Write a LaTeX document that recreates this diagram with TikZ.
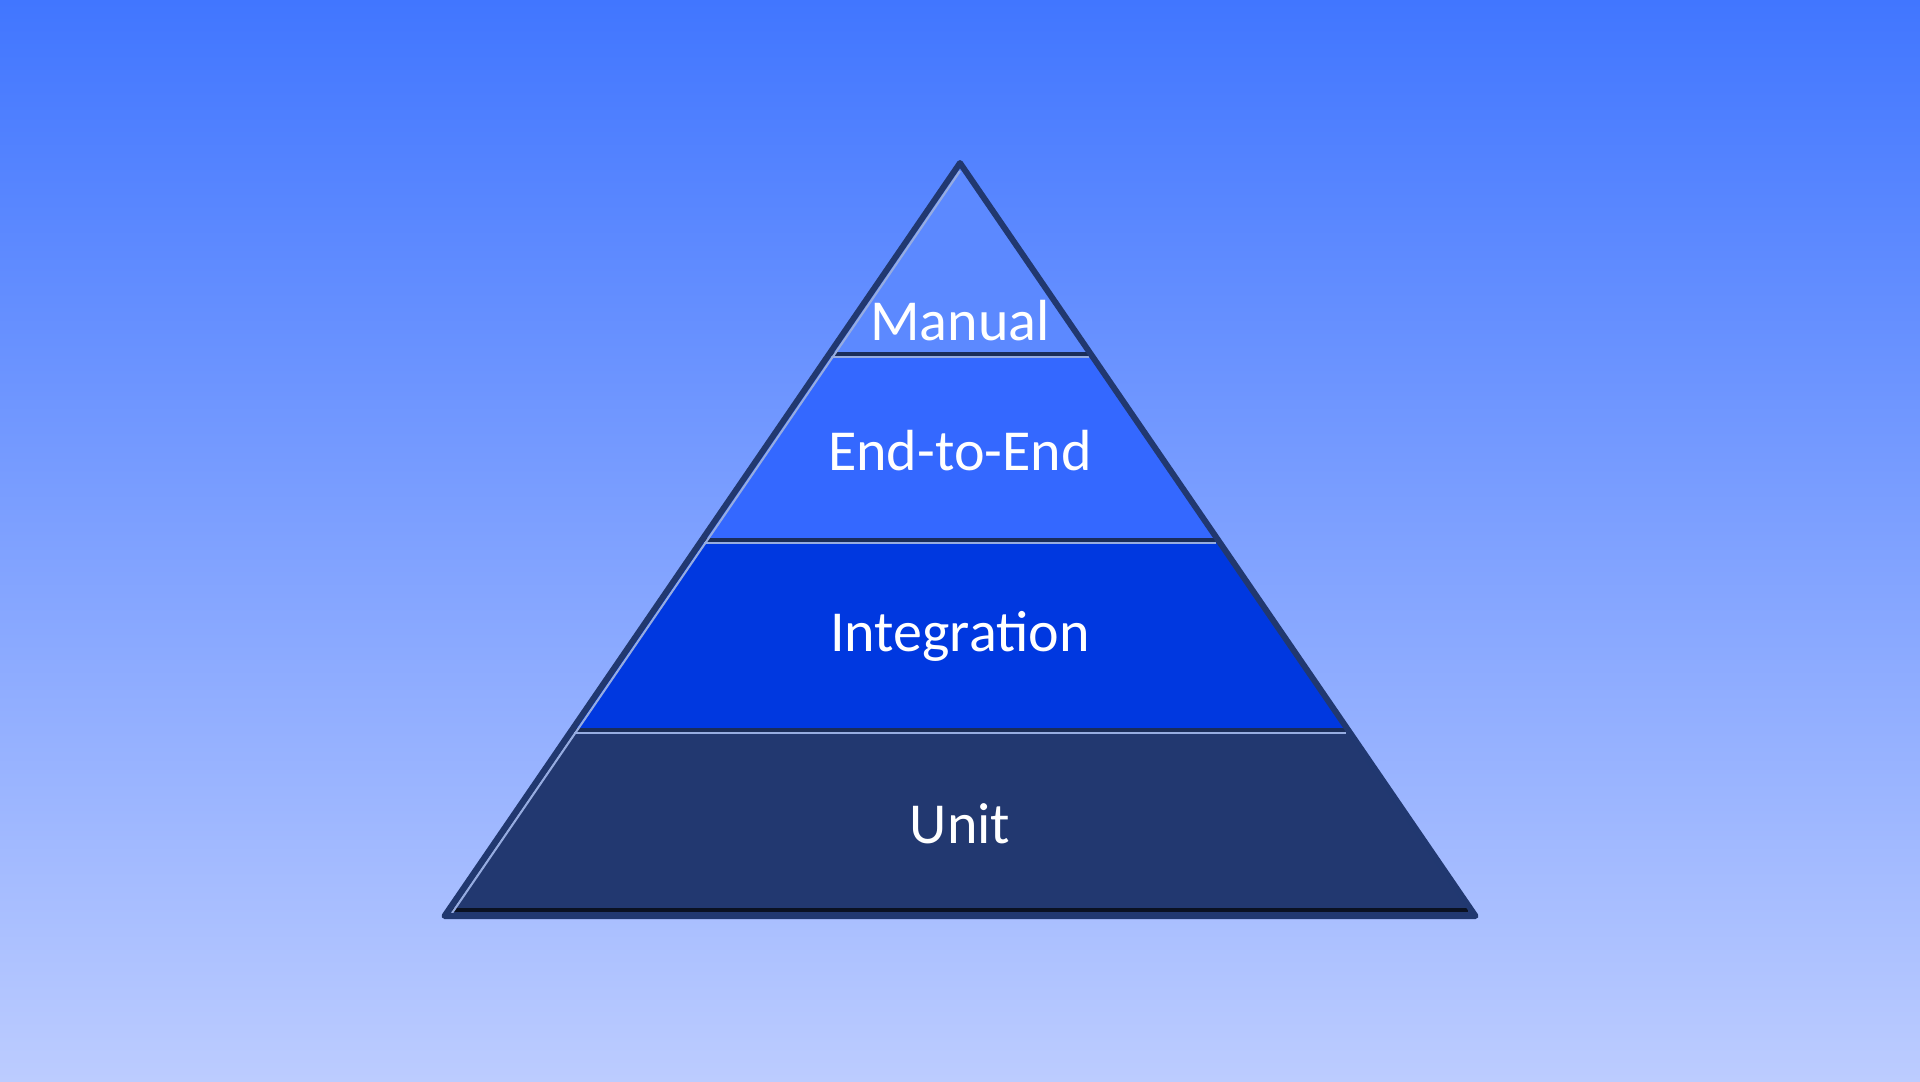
\documentclass[tikz,border=0pt]{standalone}
\usepackage{fontspec}
\setmainfont{Carlito}
\usetikzlibrary{calc}
\definecolor{bgtop}{RGB}{65,118,255}
\definecolor{bgbot}{RGB}{188,204,255}
\definecolor{edge}{RGB}{33,56,112}
\definecolor{manualc}{RGB}{92,137,255}
\definecolor{e2ec}{RGB}{52,104,255}
\definecolor{integc}{RGB}{0,56,224}
\definecolor{unitc}{RGB}{34,56,112}
\definecolor{shine}{RGB}{150,172,225}
\tikzset{
  layer/.style={draw=none},
  sepdark/.style={draw=edge!80!black,line width=1.1pt},
  seplight/.style={draw=shine,line width=0.8pt},
  outline/.style={draw=edge,line width=1.7pt,line join=round,line cap=round},
  lbl/.style={text=white,inner sep=0pt,font=\fontsize{16.5}{20}\selectfont}
}
\begin{document}
\begin{tikzpicture}[x=0.01cm,y=-0.01cm]
\shade[top color=bgtop,bottom color=bgbot] (0,0) rectangle (1920,1081);
\useasboundingbox (0,0) rectangle (1920,1081);
% corners of the pyramid
\coordinate (top) at (960,163);
\coordinate (bl) at (444.5,916);
\coordinate (br) at (1475.5,916);
% layers, top to bottom
\fill[layer,manualc] (top) -- (1091,354) -- (829,354) -- cycle;
\fill[layer,e2ec] (829,354) -- (1091,354) -- (1218,540) -- (702,540) -- cycle;
\fill[layer,integc] (702,540) -- (1218,540) -- (1348,730) -- (572,730) -- cycle;
\fill[layer,unitc] (572,730) -- (1348,730) -- (br) -- (bl) -- cycle;
% separators
\draw[sepdark] (829,354) -- (1091,354);
\draw[seplight] (831,357) -- (1089,357);
\draw[sepdark] (702,540) -- (1218,540);
\draw[seplight] (704,543) -- (1216,543);
\draw[sepdark] (572,730) -- (1348,730);
\draw[seplight] (574,733) -- (1346,733);
\draw[draw=black!70!edge,line width=1pt] (452,910) -- (1468,910);
% inner highlight on the left side
\draw[shine,line width=0.6pt] (960,171) -- (452,913);
\draw[outline] (top) -- (br) -- (bl) -- cycle;
\node[lbl] (manual) at (960,321) {Manual};
\node[lbl] (e2e) at (960,451) {End-to-End};
\node[lbl] (integ) at (960,636) {Integration};
\node[lbl] (unit) at (960,824) {Unit};
\end{tikzpicture}
\end{document}
